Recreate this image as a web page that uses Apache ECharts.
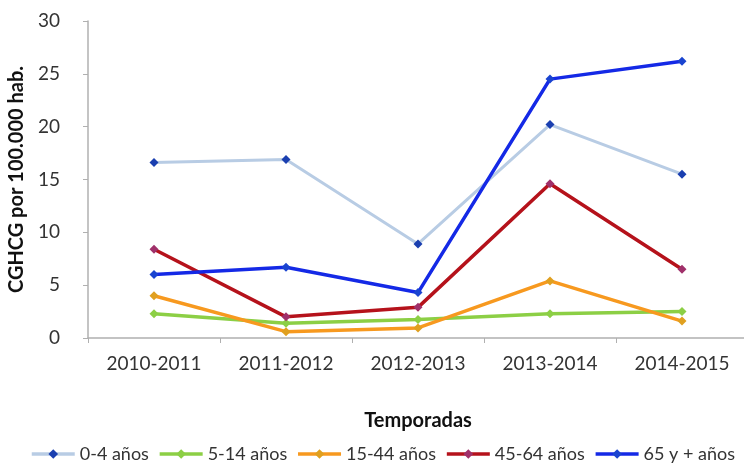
<!DOCTYPE html>
<html><head><meta charset="utf-8">
<script src="https://cdn.jsdelivr.net/npm/echarts@6/dist/echarts.min.js"></script>
<style>html,body{margin:0;padding:0;background:#fff}#c{width:744px;height:464px}</style>
</head><body><div id="c"></div>
<script>
const categories = ['2010-2011','2011-2012','2012-2013','2013-2014','2014-2015'];
const seriesNames = ['0-4 años','5-14 años','15-44 años','45-64 años','65 y + años'];
const s0_4 = [16.6, 16.9, 8.9, 20.2, 15.5];
const s5_14 = [2.3, 1.4, 1.75, 2.3, 2.5];
const s15_44 = [4.0, 0.6, 0.95, 5.4, 1.6];
const s45_64 = [8.4, 2.0, 2.9, 14.6, 6.5];
const s65 = [6.0, 6.7, 4.3, 24.5, 26.2];
const yTicks = [0, 5, 10, 15, 20, 25, 30];

const lineColors = ['#b8cce4', '#8ccf45', '#f7991f', '#b5121b', '#1429e6'];
const markColors = ['#1a3fb0', '#8ccf45', '#e0a020', '#a0306a', '#1a44d0'];
const seriesData = [s0_4, s5_14, s15_44, s45_64, s65];
const font = 'Lato, "Open Sans", sans-serif';

const chart = echarts.init(document.getElementById('c'), null, {renderer: 'canvas'});
chart.setOption({
  animation: false,
  textStyle: {fontFamily: font},
  grid: {left: 88, right: -4, top: 21, bottom: 126, outerBoundsMode: 'none', containLabel: false},
  legend: {
    top: 445, left: 30, right: 0, itemGap: 9, itemWidth: 43, itemHeight: 12, padding: 0,
    textStyle: {fontSize: 18, color: '#333', fontFamily: font},
    data: seriesNames.map((n, i) => ({
      name: n,
      lineStyle: {color: lineColors[i], width: 3.5},
      itemStyle: {color: markColors[i]}
    }))
  },
  xAxis: {
    type: 'category', data: categories, boundaryGap: true,
    name: 'Temporadas', nameLocation: 'middle', nameGap: 73,
    nameTextStyle: {fontSize: 20, fontWeight: 'bold', color: '#111', fontFamily: font},
    axisLine: {lineStyle: {color: '#b0b0b0', width: 1.5}},
    axisTick: {show: true, alignWithLabel: false, length: 5, lineStyle: {color: '#b0b0b0'}},
    axisLabel: {fontSize: 19, color: '#333', margin: 16, fontFamily: font}
  },
  yAxis: {
    type: 'value', min: yTicks[0], max: yTicks[yTicks.length - 1], interval: 5,
    name: 'CGHCG por 100.000 hab.', nameLocation: 'middle', nameGap: 61,
    nameTextStyle: {fontSize: 20, fontWeight: 'bold', color: '#111', fontFamily: font},
    axisLine: {show: true, lineStyle: {color: '#b0b0b0', width: 1.5}},
    axisTick: {show: true, length: 5, lineStyle: {color: '#b0b0b0'}},
    splitLine: {show: false},
    axisLabel: {fontSize: 19, color: '#333', margin: 28, fontFamily: font}
  },
  series: seriesNames.map((n, i) => ({
    name: n, type: 'line', data: seriesData[i],
    symbol: 'diamond', symbolSize: 9, showSymbol: true,
    lineStyle: {color: lineColors[i], width: i === 0 ? 3 : 3.5},
    itemStyle: {color: markColors[i], borderWidth: 0},
    z: [1, 2, 3, 4, 5][i]
  }))
});
</script></body></html>
